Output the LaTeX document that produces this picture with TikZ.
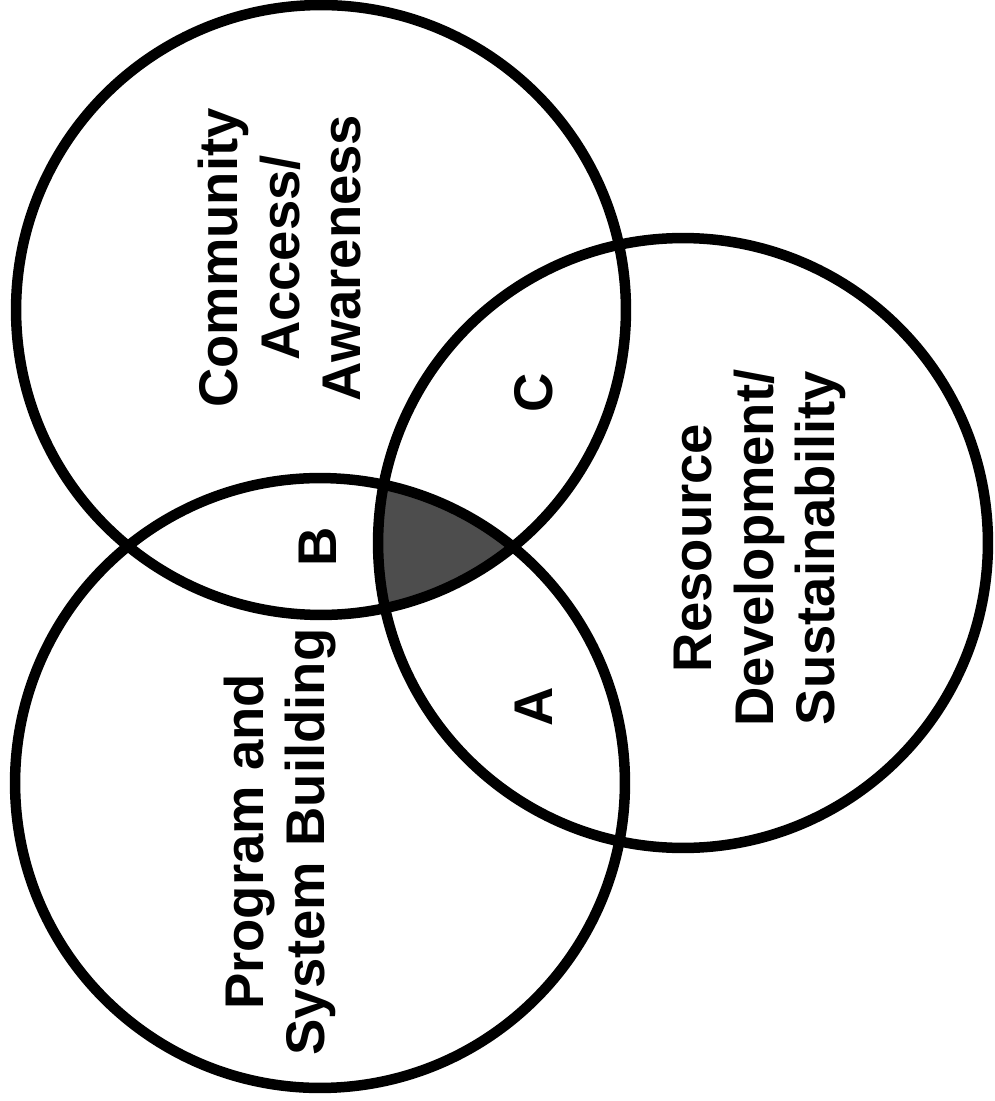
\documentclass[tikz,border=0pt]{standalone}
\usepackage{fontspec}
\setmainfont{Liberation Sans}
\definecolor{core}{HTML}{4D4D4D}
\begin{document}
\begin{tikzpicture}[x=0.02cm,y=-0.02cm,
  ring/.style={line width=0.21cm},
  area/.style={rotate=90,align=center,font=\fontsize{31}{35}\selectfont\bfseries},
  zone/.style={rotate=90,font=\fontsize{31}{35}\selectfont\bfseries}]
\useasboundingbox (0,0) rectangle (994,1101);

\coordinate (access) at (321,310);
\coordinate (resource) at (683,543);
\coordinate (program) at (320,783);

% centre where all three overlap
\begin{scope}
\clip (access) circle[radius=6.1cm];
\clip (resource) circle[radius=6.1cm];
\fill[core] (program) circle[radius=6.1cm];
\end{scope}

\draw[ring] (access) circle[radius=6.1cm];
\draw[ring] (resource) circle[radius=6.1cm];
\draw[ring] (program) circle[radius=6.1cm];

\node[area] (accesstext) at (280,258) {Community\\Access/\\Awareness};
\node[area] (resourcetext) at (760,548) {Resource\\Development/\\Sustainability};
\node[area] (programtext) at (280,842) {Program and\\System Building};

\node[zone] (zonea) at (534,707) {A};
\node[zone] (zoneb) at (318,547) {B};
\node[zone] (zonec) at (534,393) {C};
\end{tikzpicture}
\end{document}
